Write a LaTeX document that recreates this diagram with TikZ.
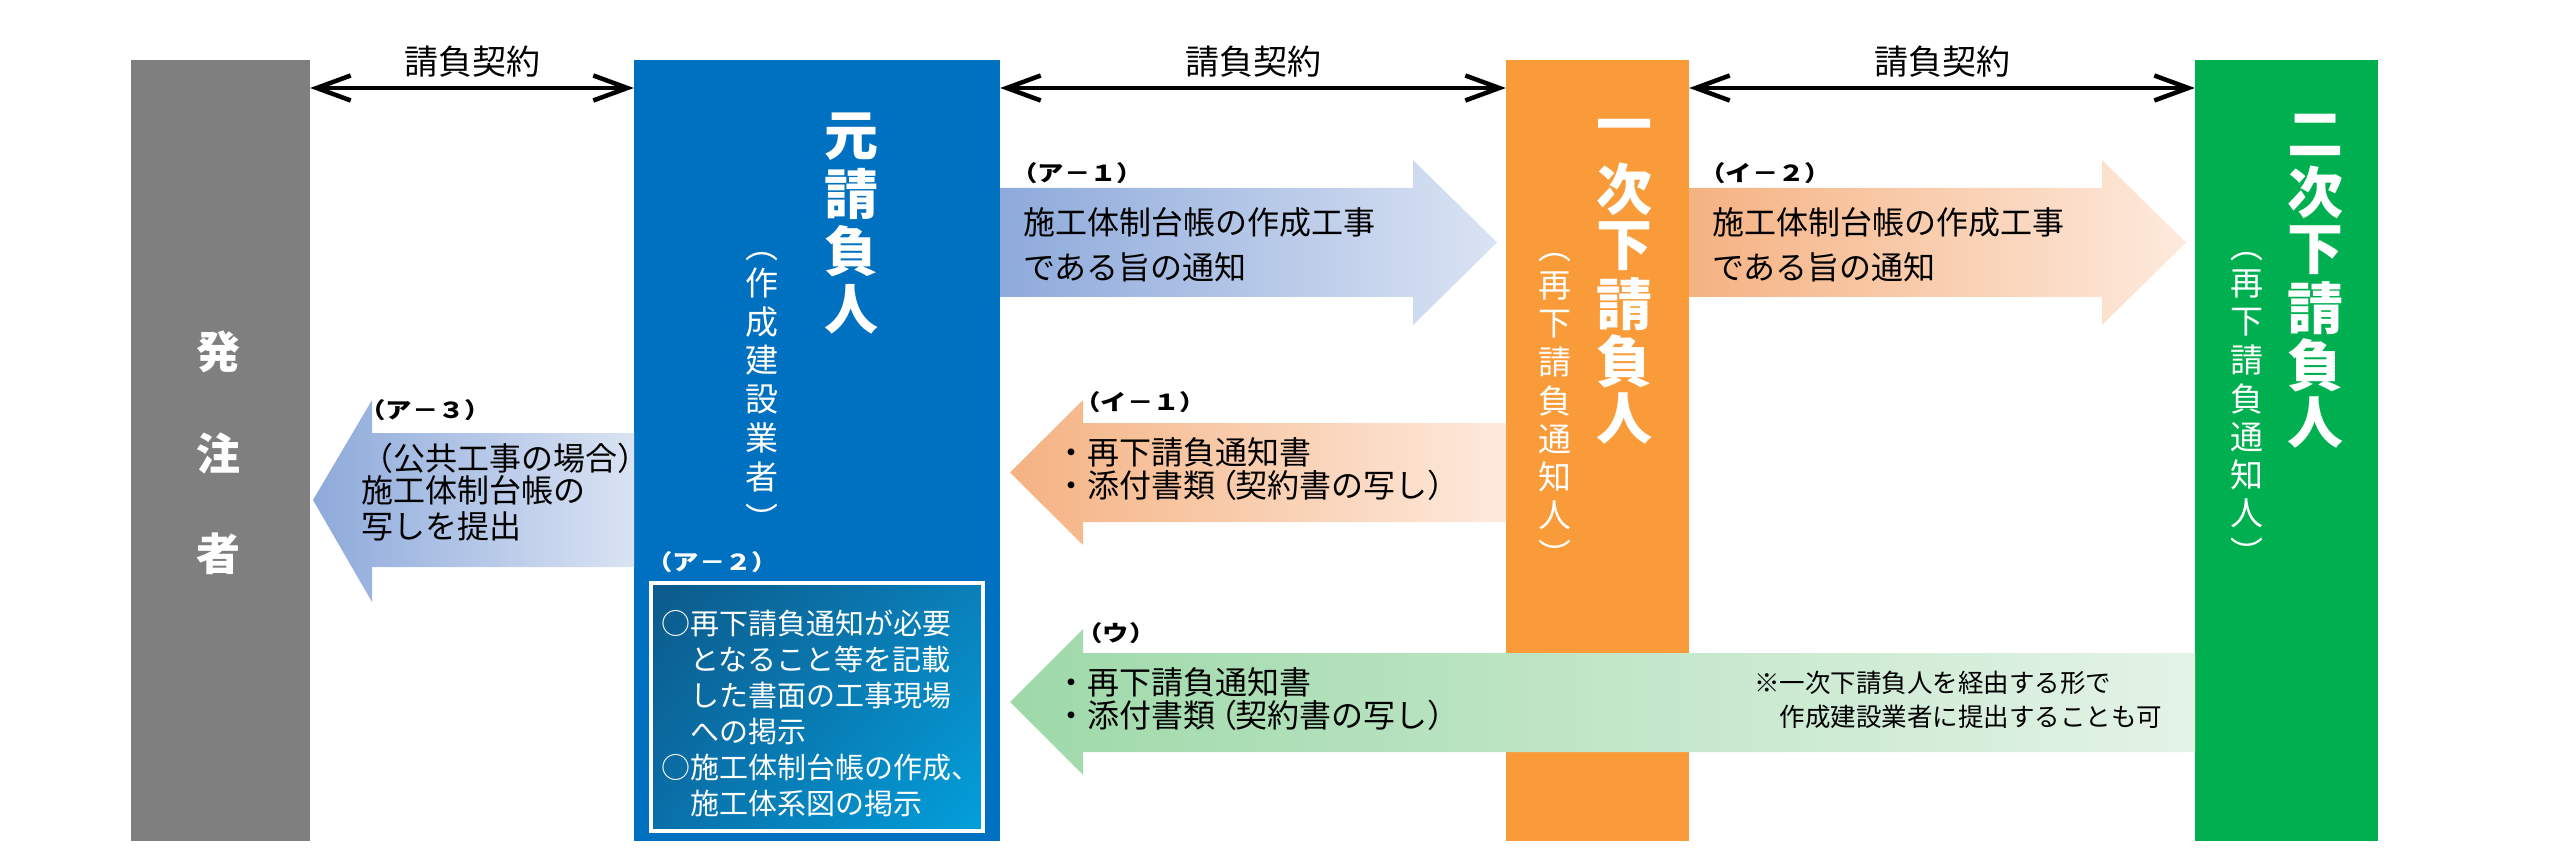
\documentclass[tikz,border=0pt]{standalone}
\usepackage{fontspec}
\usepackage{graphicx}
\setmainfont{Noto Sans CJK JP}
\usetikzlibrary{arrows.meta,shadings}
\definecolor{cgray}{HTML}{7F7F7F}
\definecolor{cblue}{HTML}{0070C0}
\definecolor{corange}{HTML}{F99B38}
\definecolor{cgreen}{HTML}{00B050}
\definecolor{bluedark}{HTML}{8EAADB}
\definecolor{bluelight}{HTML}{DAE3F3}
\definecolor{ordark}{HTML}{F5B282}
\definecolor{orlight}{HTML}{FDEADD}
\definecolor{grdark}{HTML}{9ED9A9}
\definecolor{grlight}{HTML}{E4F3E7}
\definecolor{boxul}{HTML}{0C5A8A}
\definecolor{boxur}{HTML}{0A80BA}
\definecolor{boxll}{HTML}{0A6FA8}
\definecolor{boxlr}{HTML}{02A0DC}
\newcommand\fs[2]{\fontsize{#1pt}{#2pt}\selectfont}
\newcommand\opp{\makebox[0.62em][l]{\kern-0.3em（}}
\newcommand\ind{\hspace*{1em}}
\newcommand\lab[1]{\scalebox{1.2}[1]{#1}}
\tikzset{
  bar/.style={draw=none, inner sep=0pt, minimum height=781pt},
  dbl/.style={line width=4pt, {Straight Barb[length=34pt,width=25pt,line width=4.5pt]}-{Straight Barb[length=34pt,width=25pt,line width=4.5pt]}},
  klabel/.style={font=\fs{34}{40}, inner sep=0pt, text=black},
  lbl/.style={font=\fs{22}{26}\bfseries, inner sep=0pt, anchor=west},
  txt/.style={font=\fs{32}{45}, inner sep=0pt, anchor=west, align=left},
  txtline/.style={font=\fs{32}{36}, inner sep=0pt, anchor=west},
  vch/.style={text=white, inner sep=0pt},
  ttl/.style={vch, font=\fs{56}{60}\bfseries},
  sub/.style={vch, font=\fs{33}{38}},
}
\begin{document}
\begin{tikzpicture}[x=1pt,y=-1pt]
\useasboundingbox (0,0) rectangle (2560,850);
% bars
\node[bar, fill=cgray, minimum width=179pt] (hachu) at (220.5,450.5) {};
\node[bar, fill=cblue, minimum width=366pt] (moto) at (817,450.5) {};
\node[bar, fill=corange, minimum width=183pt] (ichiji) at (1597.5,450.5) {};
\node[bar, fill=cgreen, minimum width=183pt] (niji) at (2286.5,450.5) {};
% contract arrows
\coordinate (ky) at (0,88);
\draw[dbl] (hachu.east |- ky) -- (moto.west |- ky) node[midway, klabel, yshift=26pt] (k1) {請負契約};
\draw[dbl] (moto.east |- ky) -- (ichiji.west |- ky) node[midway, klabel, yshift=26pt] (k2) {請負契約};
\draw[dbl] (ichiji.east |- ky) -- (niji.west |- ky) node[midway, klabel, yshift=26pt] (k3) {請負契約};
% gradient arrows
\shade[left color=bluedark, right color=bluelight]
  (1000,188) -- (1413,188) -- (1413,160) -- (1497,242.5) -- (1413,325) -- (1413,297) -- (1000,297) -- cycle;
\shade[left color=ordark, right color=orlight]
  (1689,188) -- (2102,188) -- (2102,160) -- (2186,242.5) -- (2102,325) -- (2102,297) -- (1689,297) -- cycle;
\shade[left color=ordark, right color=orlight]
  (1506,423) -- (1083,423) -- (1083,400) -- (1010,472.5) -- (1083,545) -- (1083,522) -- (1506,522) -- cycle;
\shade[left color=bluedark, right color=bluelight]
  (634,433) -- (372,433) -- (372,400) -- (313,500) -- (372,602) -- (372,567) -- (634,567) -- cycle;
\shade[left color=grdark, right color=grlight]
  (2195,653) -- (1083,653) -- (1083,629) -- (1010,702) -- (1083,775) -- (1083,752) -- (2195,752) -- cycle;
% (ア-2) box
\node[draw=white, line width=4pt, inner sep=0pt, minimum width=332pt, minimum height=248pt,
  upper left=boxul, upper right=boxur, lower left=boxll, lower right=boxlr] (a2box) at (817,707) {};
% vertical titles
\foreach \c [count=\i from 0] in {発,注,者}
  \node[vch, font=\fs{44}{48}\bfseries] (th\i) at (218,352+\i*101) {\c};
\foreach \c [count=\i from 0] in {元,請,負,人}
  \node[ttl, font=\fs{54}{58}\bfseries] (tm\i) at (851,137+\i*57.3) {\c};
\node[sub] (smA) at (762,257) {︵};
\foreach \c [count=\i from 0] in {作,成,建,設,業,者}
  \node[sub] (sm\i) at (762,283+\i*38.8) {\c};
\node[sub] (smZ) at (762,518) {︶};
\foreach \c [count=\i from 0] in {一,次,下,請,負,人}
  \node[ttl] (to\i) at (1624,132+\i*57.3) {\c};
\node[sub] (soA) at (1555,258) {︵};
\foreach \c [count=\i from 0] in {再,下,請,負,通,知,人}
  \node[sub] (so\i) at (1555,286+\i*38.2) {\c};
\node[sub] (soZ) at (1555,554) {︶};
\foreach \c [count=\i from 0] in {二,次,下,請,負,人}
  \node[ttl] (tg\i) at (2315,135+\i*57.6) {\c};
\node[sub] (sgA) at (2247,257) {︵};
\foreach \c [count=\i from 0] in {再,下,請,負,通,知,人}
  \node[sub] (sg\i) at (2247,284+\i*38.2) {\c};
\node[sub] (sgZ) at (2247,552) {︶};
% labels and texts
\node[lbl] (la1) at (1011,173) {\lab{（ア－１）}};
\node[txt] (ta1) at (1023,244.5) {施工体制台帳の作成工事\\である旨の通知};
\node[lbl] (li2) at (1699,173) {\lab{（イ－２）}};
\node[txt] (ti2) at (1712,244.5) {施工体制台帳の作成工事\\である旨の通知};
\node[lbl] (li1) at (1074,402) {\lab{（イ－１）}};
\node[txt, font=\fs{32}{33}] (ti1) at (1055,469) {・再下請負通知書\\・添付書類\opp 契約書の写し）};
\node[lbl] (lu) at (1076,633) {\lab{（ウ）}};
\node[txt, font=\fs{32}{33}] (tu) at (1055,699) {・再下請負通知書\\・添付書類\opp 契約書の写し）};
\node[txt, font=\fs{25.5}{34}] (note) at (1754,700) {※一次下請負人を経由する形で\\\ind 作成建設業者に提出することも可};
\node[lbl] (la3) at (359,410) {\lab{（ア－３）}};
\node[txtline] (ta3a) at (361,458) {（公共工事の場合）};
\node[txtline] (ta3b) at (361,490) {施工体制台帳の};
\node[txtline] (ta3c) at (361,526) {写しを提出};
\node[lbl, text=white] (la2) at (646,562) {\lab{（ア－２）}};
\node[txt, font=\fs{29}{36}, text=white] (ta2) at (661,713) {○再下請負通知が必要\\\ind となること等を記載\\\ind した書面の工事現場\\\ind への掲示\\○施工体制台帳の作成、\\\ind 施工体系図の掲示};
\end{tikzpicture}
\end{document}
